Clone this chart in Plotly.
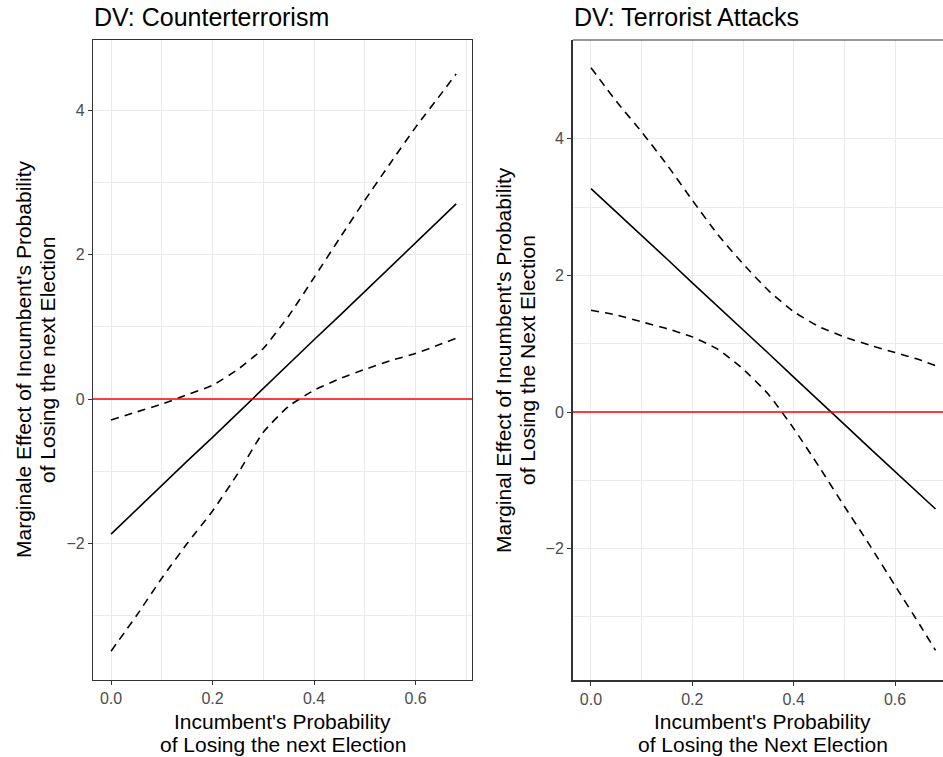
import plotly.graph_objects as go

# ---------------- data ----------------
x_grid = [0, 0.05, 0.10, 0.15, 0.20, 0.25, 0.30, 0.35, 0.40, 0.45, 0.50, 0.55, 0.60, 0.65, 0.68]

# Panel 1: DV Counterterrorism
ct_effect = [-1.87, -1.53, -1.20, -0.86, -0.53, -0.19, 0.15, 0.48, 0.82, 1.15, 1.49, 1.83, 2.16, 2.50, 2.70]
ct_upper = [-0.29, -0.18, -0.07, 0.06, 0.19, 0.41, 0.70, 1.15, 1.68, 2.22, 2.75, 3.26, 3.76, 4.22, 4.50]
ct_lower = [-3.49, -3.00, -2.48, -2.00, -1.55, -1.03, -0.46, -0.10, 0.12, 0.28, 0.41, 0.53, 0.63, 0.76, 0.84]

# Panel 2: DV Terrorist Attacks
ta_effect = [3.27, 2.93, 2.58, 2.24, 1.89, 1.55, 1.20, 0.86, 0.51, 0.17, -0.18, -0.53, -0.87, -1.22, -1.42]
ta_upper = [5.04, 4.55, 4.10, 3.62, 3.10, 2.60, 2.17, 1.78, 1.47, 1.25, 1.10, 0.98, 0.87, 0.76, 0.68]
ta_lower = [1.49, 1.42, 1.32, 1.22, 1.10, 0.92, 0.63, 0.26, -0.24, -0.80, -1.38, -1.95, -2.54, -3.13, -3.49]

x_tickvals = [0, 0.2, 0.4, 0.6]
x_ticktext = ["0.0", "0.2", "0.4", "0.6"]
x_minor = [0.1, 0.3, 0.5, 0.7]
y_tickvals = [-2, 0, 2, 4]
y_ticktext = ["\u22122", "0", "2", "4"]
y_minor = [-3, -1, 1, 3]

titles = ["DV: Counterterrorism", "DV: Terrorist Attacks"]
x_titles = [["Incumbent's Probability", "of Losing the next Election"],
            ["Incumbent's Probability", "of Losing the Next Election"]]
y_titles = [["Marginale Effect of Incumbent's Probability", "of Losing the next Election"],
            ["Marginal Effect of Incumbent's Probability", "of Losing the Next Election"]]

# ---------------- figure ----------------
W, H = 943, 757
FONT = "Liberation Sans, Arial, sans-serif"
fig = go.Figure()

dash_style = "8px,6px"
for (eff, up, lo, xa, ya) in [(ct_effect, ct_upper, ct_lower, "x", "y"),
                              (ta_effect, ta_upper, ta_lower, "x2", "y2")]:
    fig.add_trace(go.Scatter(x=x_grid, y=up, mode="lines", xaxis=xa, yaxis=ya,
                             line=dict(color="black", width=1.6, dash=dash_style, shape="spline", smoothing=0.5),
                             showlegend=False, hoverinfo="skip"))
    fig.add_trace(go.Scatter(x=x_grid, y=lo, mode="lines", xaxis=xa, yaxis=ya,
                             line=dict(color="black", width=1.6, dash=dash_style, shape="spline", smoothing=0.5),
                             showlegend=False, hoverinfo="skip"))
    fig.add_trace(go.Scatter(x=x_grid, y=eff, mode="lines", xaxis=xa, yaxis=ya,
                             line=dict(color="black", width=1.6),
                             showlegend=False, hoverinfo="skip"))

px = lambda v: v / W
py = lambda v: 1 - v / H

grid = dict(showgrid=True, gridcolor="#EBEBEB", gridwidth=1.2, zeroline=False,
            ticks="outside", ticklen=4, tickcolor="#333333", tickwidth=1,
            tickfont=dict(family=FONT, size=16, color="#4D4D4D"), fixedrange=True)

fig.update_layout(
    width=W, height=H, margin=dict(l=0, r=0, t=0, b=0),
    paper_bgcolor="white", plot_bgcolor="white",
    font=dict(family=FONT),
    xaxis=dict(domain=[px(93), px(472)], range=[-0.0355, 0.7113], anchor="y",
               tickvals=x_tickvals, ticktext=x_ticktext,
               minor=dict(tickvals=x_minor, showgrid=True, gridcolor="#EBEBEB", gridwidth=0.6, ticks=""),
               showline=True, mirror=True, linecolor="#333333", linewidth=1.1, **grid),
    yaxis=dict(domain=[py(680), py(40)], range=[-3.889, 4.969], anchor="x",
               tickvals=y_tickvals, ticktext=y_ticktext,
               minor=dict(tickvals=y_minor, showgrid=True, gridcolor="#EBEBEB", gridwidth=0.6, ticks=""),
               showline=True, mirror=True, linecolor="#333333", linewidth=1.1, **grid),
    xaxis2=dict(domain=[px(573), 1.0], range=[-0.0355, 0.6947], anchor="y2",
                tickvals=x_tickvals, ticktext=x_ticktext,
                minor=dict(tickvals=x_minor, showgrid=True, gridcolor="#EBEBEB", gridwidth=0.6, ticks=""),
                showline=True, mirror=False, linecolor="#333333", linewidth=2, **grid),
    yaxis2=dict(domain=[py(680), py(40)], range=[-3.924, 5.447], anchor="x2",
                tickvals=y_tickvals, ticktext=y_ticktext,
                minor=dict(tickvals=y_minor, showgrid=True, gridcolor="#EBEBEB", gridwidth=0.6, ticks=""),
                showline=True, mirror=False, linecolor="#333333", linewidth=2, **grid),
)

# red zero lines
fig.add_shape(type="line", xref="x domain", yref="y", x0=0, x1=1, y0=0, y1=0,
              line=dict(color="red", width=1.6))
fig.add_shape(type="line", xref="x2 domain", yref="y2", x0=0, x1=1, y0=0, y1=0,
              line=dict(color="red", width=1.6))
# top border of right panel
fig.add_shape(type="line", xref="x2 domain", yref="y2 domain", x0=0, x1=1, y0=1, y1=1,
              line=dict(color="#333333", width=1.1))

ann = []
# panel titles
for t, xl in zip(titles, [93, 573]):
    ann.append(dict(text=t, x=px(xl - 1), y=py(17), xref="paper", yref="paper",
                    xanchor="left", yanchor="middle", showarrow=False,
                    font=dict(family=FONT, size=25, color="black")))
# x-axis titles
for lines, xc in zip(x_titles, [282.5, 762.5]):
    for ln, yc in zip(lines, [721, 744]):
        ann.append(dict(text=ln, x=px(xc), y=py(yc), xref="paper", yref="paper",
                        xanchor="center", yanchor="middle", showarrow=False,
                        font=dict(family=FONT, size=21, color="black")))
# y-axis titles
for lines, xs in zip(y_titles, [(23, 47), (503, 527)]):
    for ln, xc in zip(lines, xs):
        ann.append(dict(text=ln, x=px(xc), y=py(360), xref="paper", yref="paper",
                        xanchor="center", yanchor="middle", textangle=-90, showarrow=False,
                        font=dict(family=FONT, size=21, color="black")))
fig.update_layout(annotations=ann)

fig.write_html("out.html", config={"displayModeBar": False},
               post_script="document.body.style.margin='0';document.body.style.padding='0';")
